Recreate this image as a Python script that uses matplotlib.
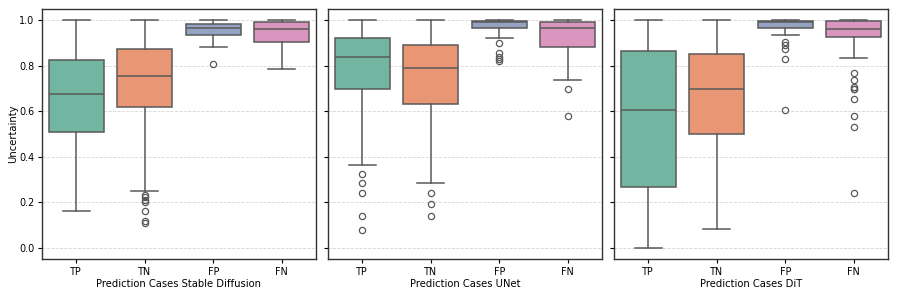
import colorsys
import numpy as np
import matplotlib
matplotlib.use('Agg')
import matplotlib.pyplot as plt
import matplotlib.colors as mcolors

# 箱线图统计量 (whislo, q1, med, q3, whishi)
cases = ['TP', 'TN', 'FP', 'FN']
models = ['Stable Diffusion', 'UNet', 'DiT']

sd_stats = [
    [0.163, 0.507, 0.674, 0.825, 1.0],
    [0.251, 0.621, 0.756, 0.874, 1.0],
    [0.881, 0.934, 0.968, 0.982, 1.0],
    [0.786, 0.905, 0.962, 0.993, 1.0],
]
sd_fliers = [
    [],
    [0.233, 0.222, 0.21, 0.20, 0.163, 0.119, 0.107],
    [0.809],
    [],
]

unet_stats = [
    [0.363, 0.699, 0.838, 0.921, 1.0],
    [0.283, 0.631, 0.791, 0.891, 1.0],
    [0.922, 0.965, 0.991, 0.997, 1.0],
    [0.739, 0.883, 0.965, 0.994, 1.0],
]
unet_fliers = [
    [0.325, 0.283, 0.241, 0.139, 0.079],
    [0.239, 0.194, 0.139],
    [0.902, 0.856, 0.841, 0.830, 0.821],
    [0.697, 0.580],
]

dit_stats = [
    [0.0, 0.269, 0.605, 0.865, 1.0],
    [0.081, 0.501, 0.698, 0.850, 1.0],
    [0.934, 0.965, 0.991, 0.997, 1.0],
    [0.833, 0.928, 0.963, 0.997, 1.0],
]
dit_fliers = [
    [],
    [],
    [0.905, 0.891, 0.874, 0.831, 0.605],
    [0.769, 0.739, 0.706, 0.700, 0.696, 0.656, 0.580, 0.530, 0.242],
]

all_stats = [sd_stats, unet_stats, dit_stats]
all_fliers = [sd_fliers, unet_fliers, dit_fliers]

# Set2 调色板，按 seaborn 默认 saturation=0.75 去饱和
set2 = ['#66c2a5', '#fc8d62', '#8da0cb', '#e78ac3']
def desat(c, prop=0.75):
    r, g, b = mcolors.to_rgb(c)
    h, l, s = colorsys.rgb_to_hls(r, g, b)
    return colorsys.hls_to_rgb(h, l, s * prop)
colors = [desat(c) for c in set2]
line_c = '#595959'

plt.rc('font', size=7.2)
plt.rc('xtick', labelsize=6.9)
plt.rc('ytick', labelsize=6.9)
fig = plt.figure(figsize=(8.97, 2.99), dpi=100)
W, H = 897.0, 299.0
lefts = [42, 328, 614]
axes = []
for i, lx in enumerate(lefts):
    if i == 0:
        ax = fig.add_axes([lx / W, 40 / H, 274 / W, 250 / H])
    else:
        ax = fig.add_axes([lx / W, 40 / H, 274 / W, 250 / H], sharey=axes[0])
    axes.append(ax)

for i, ax in enumerate(axes):
    bxp_data = []
    for j, st in enumerate(all_stats[i]):
        bxp_data.append({'whislo': st[0], 'q1': st[1], 'med': st[2], 'q3': st[3],
                         'whishi': st[4], 'fliers': all_fliers[i][j], 'label': cases[j]})
    res = ax.bxp(bxp_data, positions=np.arange(4), widths=0.8, patch_artist=True,
                 boxprops=dict(edgecolor=line_c, linewidth=1.1),
                 whiskerprops=dict(color=line_c, linewidth=1.1),
                 capprops=dict(color=line_c, linewidth=1.1),
                 medianprops=dict(color=line_c, linewidth=1.1),
                 flierprops=dict(marker='o', markerfacecolor='none', markeredgecolor=line_c,
                                 markersize=4.5, markeredgewidth=0.9))
    for patch, c in zip(res['boxes'], colors):
        patch.set_facecolor(c)
    ax.set_xlim(-0.5, 3.5)
    ax.set_ylim(-0.05, 1.05)
    ax.set_yticks([0.0, 0.2, 0.4, 0.6, 0.8, 1.0])
    ax.yaxis.grid(True, linestyle='--', color='#cccccc', linewidth=0.6, alpha=0.8)
    ax.set_axisbelow(True)
    ax.set_xlabel('Prediction Cases %s' % models[i], labelpad=2)
    ax.tick_params(length=3, pad=2.5)
    for sp in ax.spines.values():
        sp.set_color('#333333')
        sp.set_linewidth(1.0)
    if i == 0:
        ax.set_ylabel('Uncertainty', labelpad=1)
    else:
        ax.tick_params(labelleft=False)

fig.savefig('out.png', dpi=100)
